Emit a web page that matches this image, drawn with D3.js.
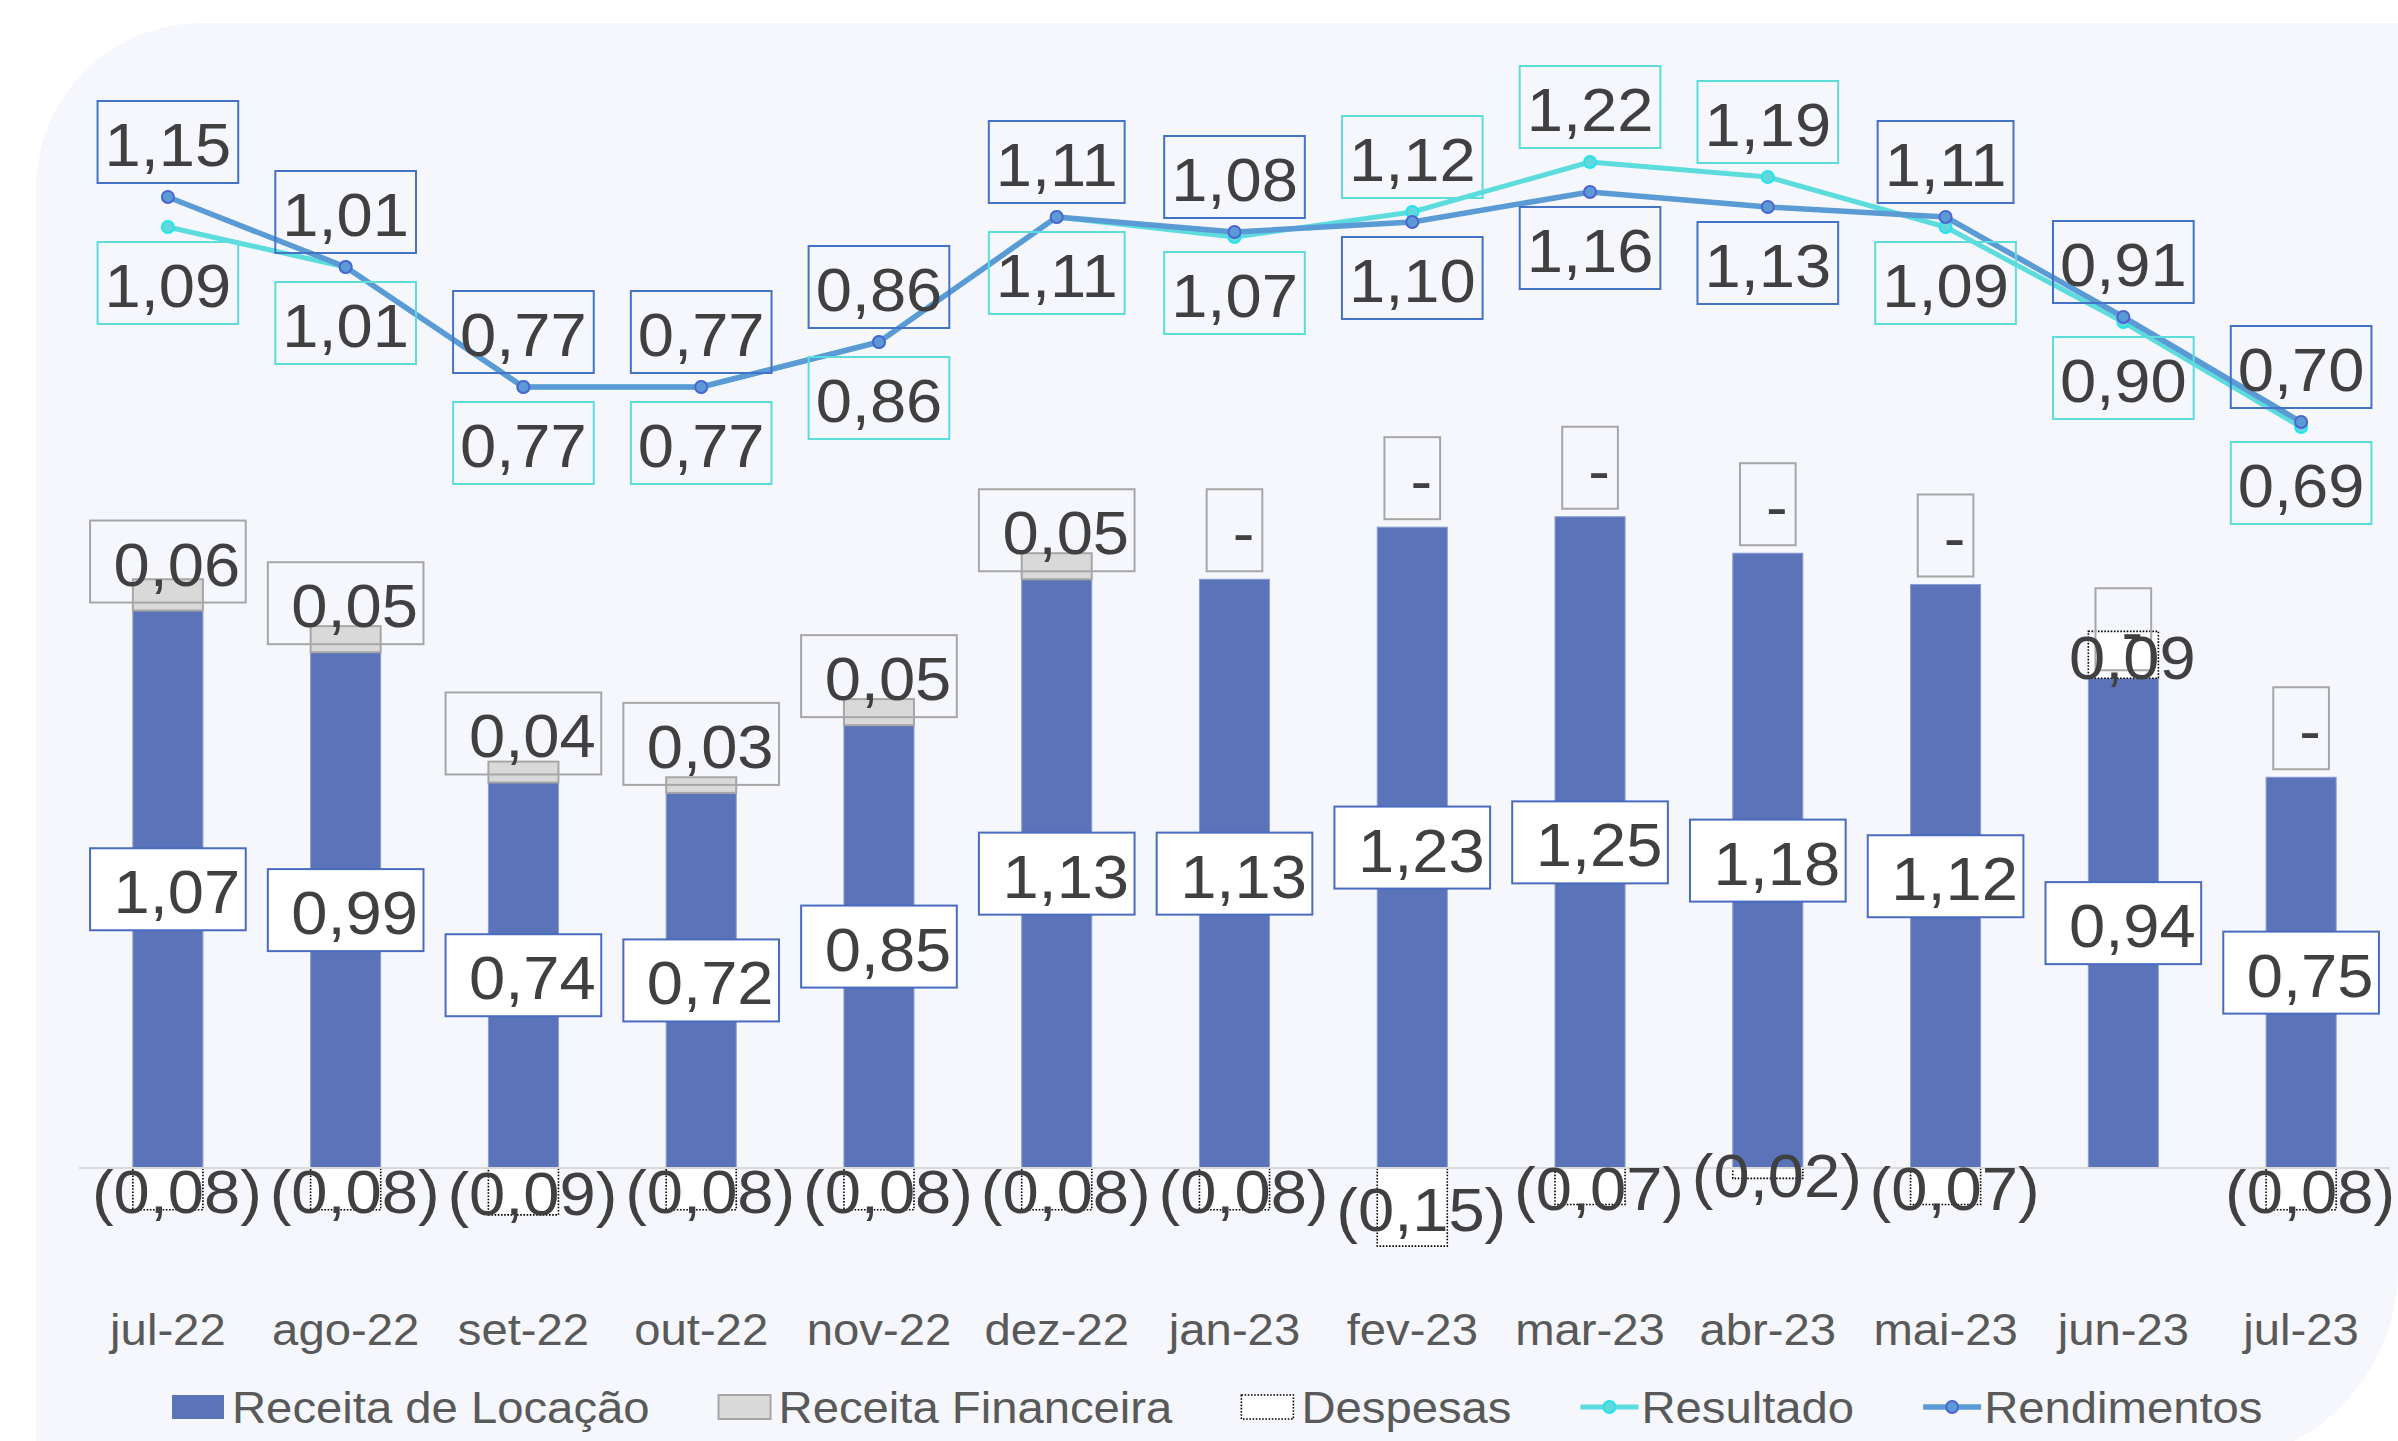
<!DOCTYPE html>
<html>
<head>
<meta charset="utf-8">
<script src="https://cdn.jsdelivr.net/npm/d3@7"></script>
<style>
  html, body { margin: 0; padding: 0; background: #ffffff; }
  svg { display: block; }
  text { font-family: "Liberation Sans", Arial, sans-serif; }
</style>
</head>
<body>
<svg id="chart" width="2398" height="1441"></svg>
<script>
// ---------------- DATA ----------------
const categories = ["jul-22","ago-22","set-22","out-22","nov-22","dez-22","jan-23","fev-23","mar-23","abr-23","mai-23","jun-23","jul-23"];
const receitaLocacao   = [1.07, 0.99, 0.74, 0.72, 0.85, 1.13, 1.13, 1.23, 1.25, 1.18, 1.12, 0.94, 0.75];
const receitaFinanceira = [0.06, 0.05, 0.04, 0.03, 0.05, 0.05, 0, 0, 0, 0, 0, 0, 0];
const despesas         = [-0.08, -0.08, -0.09, -0.08, -0.08, -0.08, -0.08, -0.15, -0.07, -0.02, -0.07, 0.09, -0.08];
const resultado        = [1.09, 1.01, 0.77, 0.77, 0.86, 1.11, 1.07, 1.12, 1.22, 1.19, 1.09, 0.90, 0.69];
const rendimentos      = [1.15, 1.01, 0.77, 0.77, 0.86, 1.11, 1.08, 1.10, 1.16, 1.13, 1.11, 0.91, 0.70];
const legendLabels = ["Receita de Locação", "Receita Financeira", "Despesas", "Resultado", "Rendimentos"];

// ---------------- STYLE ----------------
const C = {
  bg: "#F5F7FC",
  loc: "#5B73B8", locStroke: "#8A9DD3",
  fin: "#D9D9D9", finStroke: "#A6A6A6",
  desp: "#FFFFFF",
  res: "#5DDCDE", resMarker: "#62D8DB", resMarkerStroke: "#22E4EE",
  rend: "#5B9BD5", rendMarker: "#5B9BD5", rendMarkerStroke: "#4E63CF",
  rendBox: "#4472C4", resBox: "#5DDCDE", locBox: "#4A6BC0",
  label: "#404040", axisText: "#595959", axisLine: "#D9D9D9"
};
const SX = 1.05;           // slight horizontal stretch of the text
const LABEL_SIZE = 62;
const AXIS_SIZE = 45;

const svg = d3.select("#chart");

// background (rounded top-left and bottom-right)
const R1 = 165, R2 = 194;
svg.append("path")
  .attr("d", `M36,${23+R1} A${R1},${R1} 0 0 1 ${36+R1},23 L2398,23 L2398,${1463-R2} A${R2},${R2} 0 0 1 ${2398-R2},1463 L36,1463 Z`)
  .attr("fill", C.bg);

// ---------------- SCALES ----------------
const x = d3.scaleBand().domain(categories).range([79, 2390]).padding(0);
const barW = x.bandwidth() * 0.394;
const cx = c => x(c) + x.bandwidth() / 2;
const y = d3.scaleLinear().domain([-0.2, 2.0]).range([1168 + 0.2 * 521, 1168 - 2.0 * 521]);
const y2 = d3.scaleLinear().domain([0, 1]).range([772, 272]);

const fmt = v => {
  if (v === 0) return "-";
  const s = Math.abs(v).toFixed(2).replace(".", ",");
  return v < 0 ? "(" + s + ")" : s;
};

function txt(g, tx, ty, str, size, fill, anchor) {
  return g.append("text")
    .attr("transform", `translate(${tx},${ty}) scale(${SX},1)`)
    .attr("text-anchor", anchor || "middle")
    .style("font-size", size + "px")
    .attr("fill", fill)
    .text(str);
}

// ---------------- BARS ----------------
const rows = categories.map((c, i) => {
  const L = receitaLocacao[i], F = receitaFinanceira[i], D = despesas[i];
  const dBase = D >= 0 ? L + F : 0;
  return { c, i, L, F, D, dBase, dTop: dBase + D };
});

const gBars = svg.append("g");
gBars.selectAll("rect.loc").data(rows).join("rect")
  .attr("x", d => cx(d.c) - barW / 2).attr("width", barW)
  .attr("y", d => y(d.L)).attr("height", d => y(0) - y(d.L))
  .attr("fill", C.loc).attr("stroke", C.locStroke).attr("stroke-width", 1);

gBars.selectAll("rect.fin").data(rows.filter(d => d.F > 0)).join("rect")
  .attr("x", d => cx(d.c) - barW / 2).attr("width", barW)
  .attr("y", d => y(d.L + d.F)).attr("height", d => y(d.L) - y(d.L + d.F))
  .attr("fill", C.fin).attr("stroke", C.finStroke).attr("stroke-width", 2);

gBars.selectAll("rect.desp").data(rows).join("rect")
  .attr("x", d => cx(d.c) - barW / 2).attr("width", barW)
  .attr("y", d => y(Math.max(d.dBase, d.dTop)))
  .attr("height", d => Math.abs(y(d.dBase) - y(d.dTop)))
  .attr("fill", C.desp).attr("stroke", "#000").attr("stroke-width", 1.6)
  .attr("stroke-dasharray", "1.6,1.6");

// axis line
svg.append("line").attr("x1", 79).attr("x2", 2390).attr("y1", y(0)).attr("y2", y(0))
  .attr("stroke", C.axisLine).attr("stroke-width", 2);

// ---------------- LINES ----------------
const gLines = svg.append("g");
function drawLine(vals, color, width, mFill, mStroke) {
  const line = d3.line().x((d, i) => cx(categories[i])).y(d => y2(d));
  gLines.append("path").datum(vals).attr("d", line)
    .attr("fill", "none").attr("stroke", color).attr("stroke-width", width)
    .attr("stroke-linejoin", "round");
  gLines.selectAll(null).data(vals).join("circle")
    .attr("cx", (d, i) => cx(categories[i])).attr("cy", d => y2(d)).attr("r", 6)
    .attr("fill", mFill).attr("stroke", mStroke).attr("stroke-width", 2);
}
drawLine(resultado, C.res, 5, C.resMarker, C.resMarkerStroke);
drawLine(rendimentos, C.rend, 5.5, C.rendMarker, C.rendMarkerStroke);

// ---------------- LABELS ----------------
const gLab = svg.append("g");
const BOX_H = 82, BASE_OFF = 24, TX_OFF = 9;

function barLabel(xc, yc, v, boxStroke, boxFill) {
  const s = fmt(v);
  const t = txt(gLab, xc + TX_OFF, yc + BASE_OFF, s, LABEL_SIZE, C.label);
  if (boxStroke) {
    const w = t.node().getComputedTextLength() * SX;
    const bw = s === "-" ? w + 34 : w + 29;
    gLab.insert("rect", () => t.node())
      .attr("x", xc - bw / 2).attr("y", yc - BOX_H / 2)
      .attr("width", bw).attr("height", BOX_H)
      .attr("fill", boxFill || "none").attr("stroke", boxStroke).attr("stroke-width", 2);
  }
}

// Receita de Locação labels (centered in segment)
rows.forEach(d => barLabel(cx(d.c), (y(0) + y(d.L)) / 2, d.L, C.locBox, "#FFFFFF"));
// Receita Financeira labels (above segment)
rows.forEach(d => barLabel(cx(d.c), y(d.L) - 49, d.F, C.finStroke, "none"));
// Despesas labels (centered, no box)
rows.forEach(d => barLabel(cx(d.c), (y(d.dBase) + y(d.dTop)) / 2, d.D, null));

// line labels
function lineLabel(xc, py, v, stroke, above) {
  const yc = above ? py - 14 - BOX_H / 2 : py + 15 + BOX_H / 2;
  const t = txt(gLab, xc, yc + BASE_OFF, fmt(v), LABEL_SIZE, C.label);
  const w = t.node().getComputedTextLength() * SX;
  const bw = w + 14;
  gLab.insert("rect", () => t.node())
    .attr("x", xc - bw / 2).attr("y", yc - BOX_H / 2)
    .attr("width", bw).attr("height", BOX_H)
    .attr("fill", "none").attr("stroke", stroke).attr("stroke-width", 2);
}
categories.forEach((c, i) => {
  const resAbove = resultado[i] > rendimentos[i];
  lineLabel(cx(c), y2(resultado[i]), resultado[i], C.resBox, resAbove);
  lineLabel(cx(c), y2(rendimentos[i]), rendimentos[i], C.rendBox, !resAbove);
});

// ---------------- X AXIS LABELS ----------------
const gAx = svg.append("g");
categories.forEach(c => txt(gAx, cx(c), 1345, c, AXIS_SIZE, C.axisText));

// ---------------- LEGEND ----------------
const gLeg = svg.append("g");
let lx = 172;
const LY = 1407, LBASE = 1423;
legendLabels.forEach((lab, k) => {
  let tStart;
  if (k < 3) {
    const r = gLeg.append("rect").attr("x", lx).attr("y", LY - 12).attr("width", 52).attr("height", 24);
    if (k === 0) r.attr("fill", C.loc);
    if (k === 1) r.attr("fill", C.fin).attr("stroke", C.finStroke).attr("stroke-width", 2);
    if (k === 2) r.attr("fill", "#fff").attr("stroke", "#000").attr("stroke-width", 1.6).attr("stroke-dasharray", "1.6,1.6");
    tStart = lx + 60;
  } else {
    const col = k === 3 ? C.res : C.rend;
    gLeg.append("line").attr("x1", lx).attr("x2", lx + 58).attr("y1", LY).attr("y2", LY)
      .attr("stroke", col).attr("stroke-width", k === 3 ? 5 : 5.5);
    gLeg.append("circle").attr("cx", lx + 29).attr("cy", LY).attr("r", 6)
      .attr("fill", k === 3 ? C.resMarker : C.rendMarker)
      .attr("stroke", k === 3 ? C.resMarkerStroke : C.rendMarkerStroke).attr("stroke-width", 2);
    tStart = lx + 61;
  }
  const t = txt(gLeg, tStart, LBASE, lab, AXIS_SIZE, C.axisText, "start");
  lx = tStart + t.node().getComputedTextLength() * SX + 69;
});
</script>
</body>
</html>
